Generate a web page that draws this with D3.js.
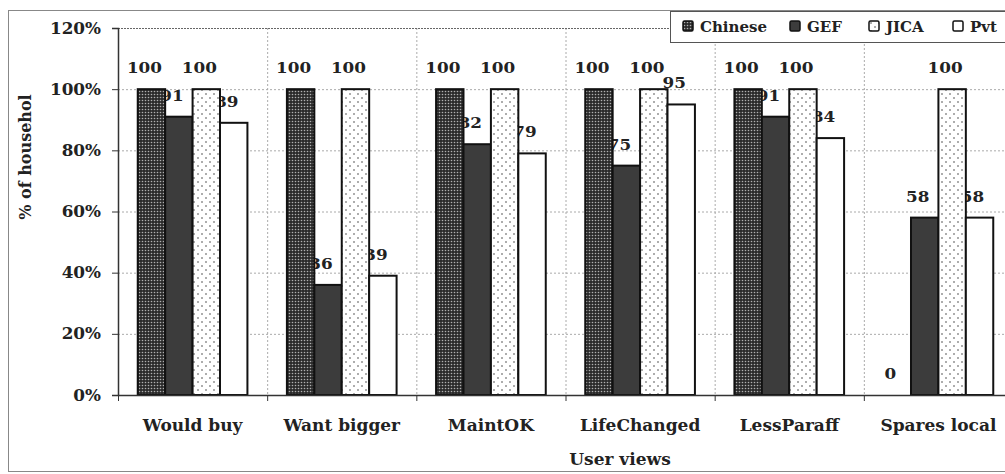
<!DOCTYPE html>
<html>
<head>
<meta charset="utf-8">
<script src="https://cdn.jsdelivr.net/npm/d3@7/dist/d3.min.js"></script>
<style>
  html, body { margin: 0; padding: 0; background: #fff; }
  svg { display: block; }
</style>
</head>
<body>
<svg id="chart" width="1005" height="474"></svg>
<script>
// Survey results: share of households agreeing, by programme
const categories = ["Would buy", "Want bigger", "MaintOK", "LifeChanged", "LessParaff", "Spares local"];
const seriesNames = ["Chinese", "GEF", "JICA", "Pvt"];
const chinese = [100, 100, 100, 100, 100, 0];
const gef     = [91, 36, 82, 75, 91, 58];
const jica    = [100, 100, 100, 100, 100, 100];
const pvt     = [89, 39, 79, 95, 84, 58];
const yTicks  = [0, 20, 40, 60, 80, 100, 120];

const seriesValues = { Chinese: chinese, GEF: gef, JICA: jica, Pvt: pvt };
const rows = [];
categories.forEach((c, i) => seriesNames.forEach(s => rows.push({ cat: c, series: s, value: seriesValues[s][i] })));

const FONT = "DejaVu Serif";
const svg = d3.select("#chart");

function serif(sel, size, sx) {
  return sel.attr("font-family", FONT).attr("font-weight", "bold")
    .attr("font-size", size).attr("fill", "#222");
}

// fills
const defs = svg.append("defs");
const pc = defs.append("pattern").attr("id", "pat-chinese").attr("patternUnits", "userSpaceOnUse")
  .attr("width", 3).attr("height", 3);
pc.append("rect").attr("width", 3).attr("height", 3).attr("fill", "#2b2b2b");
pc.append("circle").attr("cx", 1.5).attr("cy", 1.5).attr("r", 0.8).attr("fill", "#b0b0b0");

const pj = defs.append("pattern").attr("id", "pat-jica").attr("patternUnits", "userSpaceOnUse")
  .attr("width", 8).attr("height", 8);
pj.append("rect").attr("width", 8).attr("height", 8).attr("fill", "#fff");
pj.append("circle").attr("cx", 2).attr("cy", 2).attr("r", 0.75).attr("fill", "#333");
pj.append("circle").attr("cx", 6).attr("cy", 6).attr("r", 0.75).attr("fill", "#333");

const fills = { Chinese: "url(#pat-chinese)", GEF: "#3c3c3c", JICA: "url(#pat-jica)", Pvt: "#fff" };

// outer frame
svg.append("rect").attr("x", 8.5).attr("y", 10.5).attr("width", 1010).attr("height", 461)
  .attr("fill", "#fff").attr("stroke", "#888").attr("stroke-width", 1);

// scales
const y = d3.scaleLinear().domain([0, 120]).range([395, 28]);
const x = d3.scaleBand().domain(categories).range([118, 1013]);
const xs = d3.scaleBand().domain(seriesNames).range([0, x.bandwidth()]).paddingOuter(0.72).paddingInner(0);

// gridlines
const grid = svg.append("g");
grid.selectAll("line.h").data(yTicks.filter(t => t > 0 && t < 120)).join("line")
  .attr("x1", 118).attr("x2", 1013).attr("y1", d => y(d) + 0.5).attr("y2", d => y(d) + 0.5)
  .attr("stroke", "#aaa").attr("stroke-width", 1).attr("stroke-dasharray", "2,2");
grid.selectAll("line.v").data(categories.slice(1)).join("line")
  .attr("x1", d => x(d) + 0.5).attr("x2", d => x(d) + 0.5).attr("y1", y(120)).attr("y2", y(0))
  .attr("stroke", "#aaa").attr("stroke-width", 1).attr("stroke-dasharray", "2,2");
grid.append("line").attr("x1", 118).attr("x2", 1013).attr("y1", y(120) + 0.5).attr("y2", y(120) + 0.5)
  .attr("stroke", "#666").attr("stroke-width", 1).attr("stroke-dasharray", "2,1");

// value labels (sit behind the bars)
svg.append("g").selectAll("text").data(rows).join("text")
  .attr("text-anchor", "middle")
  .call(serif, 14)
  .attr("transform", d => `translate(${x(d.cat) + xs(d.series) + xs.bandwidth() / 2 - 7},${y(d.value) - 16}) scale(1.2,1)`)
  .text(d => d.value);

// bars
svg.append("g").selectAll("rect").data(rows.filter(d => d.value > 0)).join("rect")
  .attr("x", d => x(d.cat) + xs(d.series))
  .attr("y", d => y(d.value))
  .attr("width", xs.bandwidth())
  .attr("height", d => y(0) - y(d.value))
  .attr("fill", d => fills[d.series])
  .attr("stroke", "#111").attr("stroke-width", 2);

// y axis
const yAxis = svg.append("g").attr("transform", "translate(118,0)")
  .call(d3.axisLeft(y).tickValues(yTicks).tickFormat(d => d + "%").tickSize(6).tickPadding(11));
yAxis.attr("font-family", FONT).attr("font-size", null);
yAxis.select(".domain").attr("stroke", "#333").attr("stroke-width", 1.5);
yAxis.selectAll(".tick line").attr("stroke", "#333");
yAxis.selectAll(".tick text").call(serif, 16)
  .attr("x", -17 / 1.05).attr("transform", "scale(1.05,1)");

// x axis (category names centred under each group)
const xAxis = svg.append("g").attr("transform", `translate(0,${y(0)})`)
  .call(d3.axisBottom(x).tickSize(0).tickPadding(24));
xAxis.attr("font-family", FONT).attr("font-size", null);
xAxis.select(".domain").attr("stroke", "#333").attr("stroke-width", 1.5);
xAxis.selectAll(".tick text").call(serif, 17);

// category boundary ticks
svg.append("g").selectAll("line").data(categories).join("line")
  .attr("x1", d => x(d) + 0.5).attr("x2", d => x(d) + 0.5)
  .attr("y1", y(0)).attr("y2", y(0) + 6).attr("stroke", "#333");

// axis titles
svg.append("text").attr("text-anchor", "middle").call(serif, 17)
  .attr("transform", "translate(620,465)").text("User views");
svg.append("text").attr("text-anchor", "middle").call(serif, 16)
  .attr("transform", "translate(31,157) rotate(-90)").text("% of househol");

// legend
const leg = svg.append("g");
leg.append("rect").attr("x", 670.5).attr("y", 11.5).attr("width", 345).attr("height", 31)
  .attr("fill", "#fff").attr("stroke", "#555");
const legX = { Chinese: 683, GEF: 790, JICA: 869, Pvt: 953 };
const item = leg.selectAll("g").data(seriesNames).join("g")
  .attr("transform", d => `translate(${legX[d]},21)`);
item.append("rect").attr("width", 10).attr("height", 10).attr("rx", 1.5)
  .attr("fill", d => fills[d]).attr("stroke", "#111").attr("stroke-width", 1.5);
item.append("text").call(serif, 15).attr("transform", "translate(17,11)")
  .text(d => d);
</script>
</body>
</html>
